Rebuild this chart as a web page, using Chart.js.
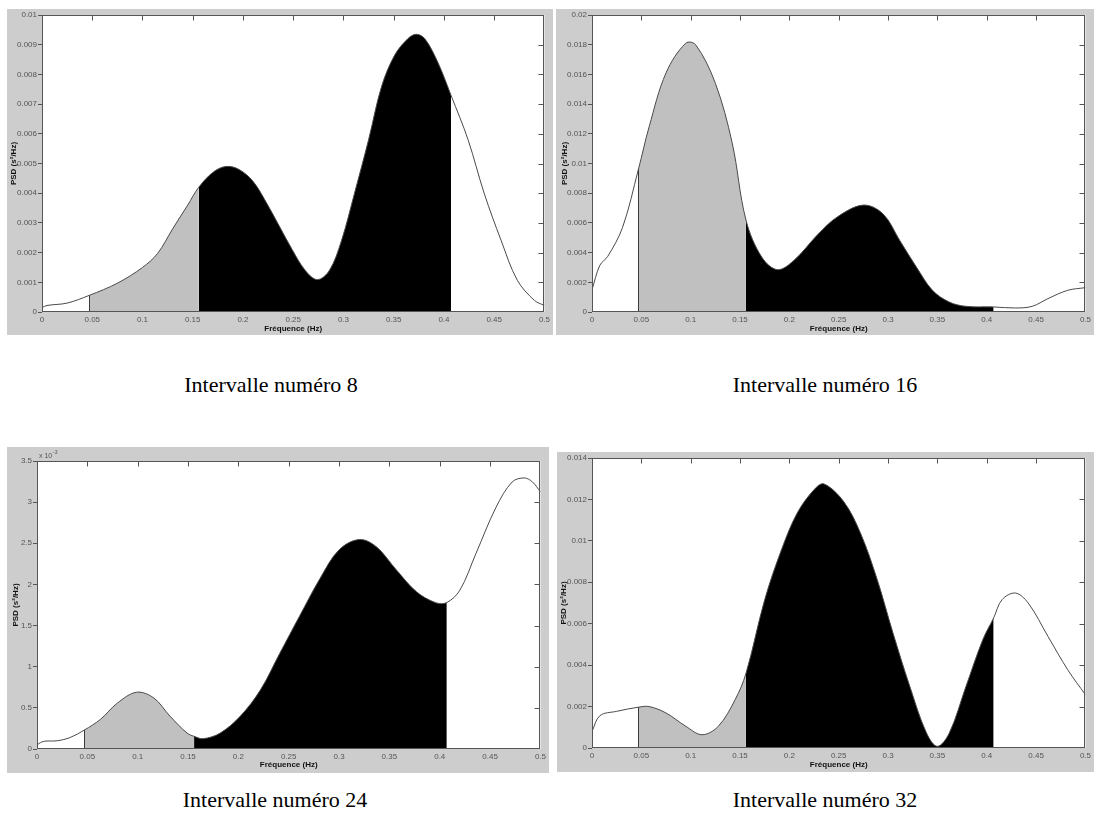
<!DOCTYPE html>
<html>
<head>
<meta charset="utf-8">
<script src="https://cdn.jsdelivr.net/npm/chart.js@4.4.0/dist/chart.umd.min.js"></script>
<style>
  body { margin: 0; background: #fff; width: 1094px; height: 825px; position: relative; overflow: hidden; }
  canvas { position: absolute; background: #cdcdcd; }
  .caption { position: absolute; width: 400px; text-align: center; font-family: "Liberation Serif", "Times New Roman", serif; font-size: 22px; line-height: 26px; color: #000; }
</style>
</head>
<body>
<canvas id="psd8" width="546" height="326" style="left:7px;top:9px"></canvas>
<canvas id="psd16" width="538" height="326" style="left:556px;top:9px"></canvas>
<canvas id="psd24" width="542" height="326" style="left:7px;top:447px"></canvas>
<canvas id="psd32" width="537" height="320" style="left:557px;top:452px"></canvas>

<div class="caption" style="left:71px;top:372px">Intervalle numéro 8</div>
<div class="caption" style="left:625px;top:372px">Intervalle numéro 16</div>
<div class="caption" style="left:75px;top:787px">Intervalle numéro 24</div>
<div class="caption" style="left:625px;top:787px">Intervalle numéro 32</div>

<script>
// bandes LF et HF (Hz)
const lfBand = [0.047, 0.156];
const hfBand = [0.156, 0.407];

const xTicks = [0, 0.05, 0.1, 0.15, 0.2, 0.25, 0.3, 0.35, 0.4, 0.45, 0.5];
const xTickLabels = ['0', '0.05', '0.1', '0.15', '0.2', '0.25', '0.3', '0.35', '0.4', '0.45', '0.5'];

// intervalle 8
const freq8 = [0, 0.005, 0.025, 0.047, 0.075, 0.1, 0.115, 0.13, 0.145, 0.156, 0.17, 0.183, 0.196, 0.21, 0.223, 0.236, 0.249, 0.262, 0.274, 0.286, 0.298, 0.311, 0.325, 0.338, 0.351, 0.364, 0.3725, 0.381, 0.394, 0.407, 0.424, 0.44, 0.457, 0.473, 0.49, 0.5];
const psd8 = [0.00015, 0.00022, 0.0003, 0.00056, 0.00097, 0.0015, 0.00197, 0.0028, 0.0036, 0.0042, 0.0047, 0.0049, 0.0048, 0.0044, 0.0037, 0.0029, 0.0021, 0.0014, 0.00109, 0.0014, 0.0024, 0.004, 0.0058, 0.0076, 0.00865, 0.0092, 0.00935, 0.0092, 0.0084, 0.0073, 0.0058, 0.004, 0.0024, 0.00107, 0.00039, 0.00022];
const yTicks8 = [0, 0.001, 0.002, 0.003, 0.004, 0.005, 0.006, 0.007, 0.008, 0.009, 0.01];
const yTickLabels8 = ['0', '0.001', '0.002', '0.003', '0.004', '0.005', '0.006', '0.007', '0.008', '0.009', '0.01'];

// intervalle 16
const freq16 = [0, 0.008, 0.016, 0.031, 0.047, 0.058, 0.075, 0.095, 0.105, 0.125, 0.142, 0.156, 0.172, 0.188, 0.205, 0.2285, 0.2485, 0.275, 0.295, 0.312, 0.329, 0.345, 0.362, 0.379, 0.407, 0.429, 0.446, 0.462, 0.482, 0.5];
const psd16 = [0.0015, 0.00315, 0.00375, 0.0057, 0.0096, 0.0125, 0.0161, 0.0181, 0.018, 0.0154, 0.0114, 0.0062, 0.0037, 0.00285, 0.0035, 0.0052, 0.0064, 0.0072, 0.0066, 0.0048, 0.003, 0.00146, 0.00067, 0.00038, 0.00034, 0.00027, 0.00038, 0.0009, 0.00146, 0.00164];
const yTicks16 = [0, 0.002, 0.004, 0.006, 0.008, 0.01, 0.012, 0.014, 0.016, 0.018, 0.02];
const yTickLabels16 = ['0', '0.002', '0.004', '0.006', '0.008', '0.01', '0.012', '0.014', '0.016', '0.018', '0.02'];

// intervalle 24 (valeurs en 10^-3 s²/Hz)
const freq24 = [0, 0.0067, 0.02, 0.033, 0.047, 0.063, 0.08, 0.099, 0.116, 0.132, 0.149, 0.156, 0.165, 0.182, 0.202, 0.222, 0.241, 0.261, 0.281, 0.3, 0.32, 0.337, 0.357, 0.377, 0.396, 0.407, 0.42, 0.436, 0.456, 0.472, 0.484, 0.492, 0.5];
const psd24 = [0.053, 0.093, 0.1, 0.14, 0.23, 0.36, 0.56, 0.69, 0.62, 0.4, 0.194, 0.154, 0.125, 0.194, 0.4, 0.72, 1.16, 1.62, 2.07, 2.42, 2.546, 2.458, 2.175, 1.91, 1.778, 1.78, 1.93, 2.377, 2.94, 3.246, 3.294, 3.246, 3.124];
const yTicks24 = [0, 0.5, 1, 1.5, 2, 2.5, 3, 3.5];
const yTickLabels24 = ['0', '0.5', '1', '1.5', '2', '2.5', '3', '3.5'];

// intervalle 32
const freq32 = [0, 0.008, 0.025, 0.047, 0.058, 0.075, 0.095, 0.1115, 0.128, 0.145, 0.156, 0.175, 0.192, 0.208, 0.225, 0.235, 0.255, 0.272, 0.289, 0.305, 0.322, 0.339, 0.35, 0.362, 0.379, 0.396, 0.407, 0.4155, 0.429, 0.442, 0.462, 0.482, 0.5];
const psd32 = [0.0008, 0.00156, 0.00177, 0.00197, 0.002, 0.00169, 0.00105, 0.00064, 0.00105, 0.00233, 0.0036, 0.00716, 0.00957, 0.01135, 0.01247, 0.01275, 0.0119, 0.01038, 0.00813, 0.00555, 0.00298, 0.00072, 0.00008, 0.00072, 0.00298, 0.00523, 0.00628, 0.00716, 0.00748, 0.007, 0.00539, 0.00378, 0.00257];
const yTicks32 = [0, 0.002, 0.004, 0.006, 0.008, 0.01, 0.012, 0.014];
const yTickLabels32 = ['0', '0.002', '0.004', '0.006', '0.008', '0.01', '0.012', '0.014'];

const FONT = '"Liberation Sans", Arial, sans-serif';

function bandColour(x0, x1) {
    if (x0 >= lfBand[0] && x1 <= lfBand[1]) return '#c0c0c0';
    if (x0 >= hfBand[0] && x1 <= hfBand[1]) return '#000';
    return '#fff';
}

// fond blanc, cadre, graduations intérieures et trait au début de la bande LF
function framePlugin(freq, psd, exponent) {
    return {
        id: 'frame',
        beforeDraw(chart) {
            const a = chart.chartArea, ctx = chart.ctx;
            ctx.save();
            ctx.fillStyle = '#fff';
            ctx.fillRect(a.left, a.top, a.width, a.height);
            ctx.restore();
        },
        afterDatasetsDraw(chart) {
            const a = chart.chartArea, ctx = chart.ctx;
            const xs = chart.scales.x, ys = chart.scales.y;
            ctx.save();
            ctx.strokeStyle = '#3a3a3a';
            ctx.lineWidth = 1;

            const i = freq.indexOf(lfBand[0]);
            const px = Math.round(xs.getPixelForValue(freq[i])) + 0.5;
            ctx.beginPath();
            ctx.moveTo(px, ys.getPixelForValue(0));
            ctx.lineTo(px, ys.getPixelForValue(psd[i]));
            ctx.stroke();

            const l = Math.round(a.left) + 0.5, t = Math.round(a.top) + 0.5;
            const r = Math.round(a.right) - 0.5, b = Math.round(a.bottom) - 0.5;
            ctx.strokeStyle = '#555';
            ctx.strokeRect(l, t, r - l, b - t);
            ctx.beginPath();
            xs.ticks.forEach(tk => {
                const x = Math.round(xs.getPixelForValue(tk.value)) + 0.5;
                if (x <= l + 1 || x >= r - 1) return;
                ctx.moveTo(x, t); ctx.lineTo(x, t + 5);
            });
            ys.ticks.forEach(tk => {
                const y = Math.round(ys.getPixelForValue(tk.value)) + 0.5;
                if (y <= t + 1 || y >= b - 1) return;
                ctx.moveTo(r, y); ctx.lineTo(r - 5, y);
            });
            ctx.stroke();

            if (exponent) {
                ctx.fillStyle = '#555';
                ctx.textBaseline = 'alphabetic';
                ctx.font = '7px ' + FONT;
                ctx.fillText('x 10', a.left + 2, a.top - 3);
                ctx.font = '5px ' + FONT;
                ctx.fillText(exponent, a.left + 16, a.top - 7);
            }
            ctx.restore();
        }
    };
}

function makePsdChart(id, freq, psd, yTicks, yLabels, box, exponent) {
    const ctx = document.getElementById(id).getContext('2d');
    new Chart(ctx, {
        type: 'line',
        data: {
            datasets: [{
                data: freq.map((f, i) => ({ x: f, y: psd[i] })),
                borderColor: '#4a4a4a',
                borderWidth: 1,
                pointRadius: 0,
                fill: 'origin',
                backgroundColor: '#fff',
                tension: 0.35,
                segment: {
                    backgroundColor: c => bandColour(c.p0.parsed.x, c.p1.parsed.x)
                }
            }]
        },
        options: {
            responsive: false,
            animation: false,
            devicePixelRatio: 1,
            layout: { padding: { left: 0, top: box.top, right: box.right, bottom: 0 } },
            plugins: { legend: { display: false }, tooltip: { enabled: false } },
            scales: {
                x: {
                    type: 'linear',
                    min: 0,
                    max: 0.5,
                    afterBuildTicks: s => { s.ticks = xTicks.map(v => ({ value: v })); },
                    afterFit: s => { s.height = box.bottom; },
                    grid: { display: false, drawTicks: false },
                    border: { display: false },
                    ticks: {
                        autoSkip: false, maxRotation: 0, padding: 3,
                        color: '#555', font: { family: FONT, size: 8 },
                        callback: (v, i) => xTickLabels[i]
                    },
                    title: {
                        display: true, text: 'Fréquence (Hz)', color: '#111',
                        font: { family: FONT, size: 8, weight: 'bold' },
                        padding: { top: 0, bottom: box.xTitle }
                    }
                },
                y: {
                    type: 'linear',
                    min: yTicks[0],
                    max: yTicks[yTicks.length - 1],
                    afterBuildTicks: s => { s.ticks = yTicks.map(v => ({ value: v })); },
                    afterFit: s => { s.width = box.left; },
                    grid: { display: true, drawOnChartArea: false, drawTicks: true, tickLength: 4, color: '#555' },
                    border: { display: false },
                    ticks: {
                        autoSkip: false, padding: 1,
                        color: '#555', font: { family: FONT, size: 8 },
                        callback: (v, i) => yLabels[i]
                    },
                    title: {
                        display: true, text: 'PSD (s²/Hz)', color: '#111',
                        font: { family: FONT, size: 8, weight: 'bold' },
                        padding: { top: box.yTitle, bottom: 0 }
                    }
                }
            }
        },
        plugins: [framePlugin(freq, psd, exponent)]
    });
}

makePsdChart('psd8', freq8, psd8, yTicks8, yTickLabels8, { left: 35, top: 6, right: 6, bottom: 23, xTitle: 1, yTitle: 2 });
makePsdChart('psd16', freq16, psd16, yTicks16, yTickLabels16, { left: 36, top: 6, right: 3, bottom: 23, xTitle: 1, yTitle: 4 });
makePsdChart('psd24', freq24, psd24, yTicks24, yTickLabels24, { left: 30, top: 14, right: 7, bottom: 24, xTitle: 3, yTitle: 4 }, '-3');
makePsdChart('psd32', freq32, psd32, yTicks32, yTickLabels32, { left: 35, top: 6, right: 3, bottom: 24, xTitle: 2, yTitle: 2 });
</script>
</body>
</html>
